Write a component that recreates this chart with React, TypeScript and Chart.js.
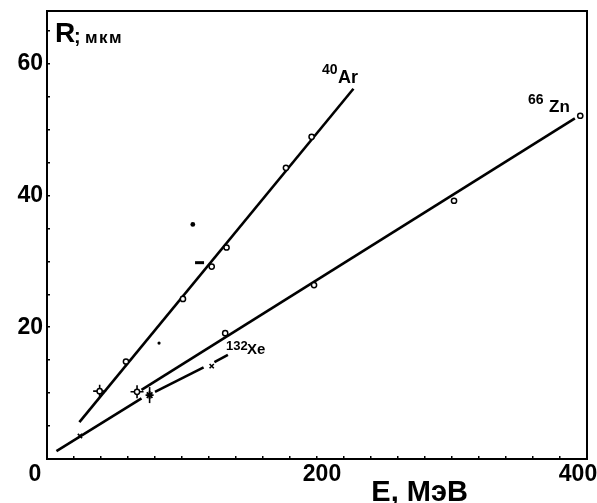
import React, { useEffect, useRef } from 'react';
import { Chart, registerables } from 'chart.js';

Chart.register(...registerables);

// ---- data (E in MeV, R in µm) ----
const AR_LINE_E = [24, 227];
const AR_LINE_R = [5.6, 56.2];
const ZN_LOW_E = [7, 70];
const ZN_LOW_R = [1.2, 9.2];
const ZN_LINE_E = [70, 391];
const ZN_LINE_R = [10.5, 51.7];
const XE_SEG1_E = [80, 116];
const XE_SEG1_R = [10.2, 13.9];
const XE_SEG2_E = [124, 134];
const XE_SEG2_R = [14.7, 15.8];

const AR_PTS_E = [39, 58.5, 100.7, 122, 133, 177, 196];
const AR_PTS_R = [10.3, 14.8, 24.3, 29.2, 32.1, 44.2, 48.9];
const ZN_PTS_E = [66.7, 132, 197.8, 301.5, 395];
const ZN_PTS_R = [10.2, 19.1, 26.4, 39.2, 52.1];
const CROSS_E = [39, 66.7];
const CROSS_R = [10.3, 10.2];
const XE_X_E = [24.4, 122];
const XE_X_R = [3.5, 14.1];
const XE_STAR_E = [76];
const XE_STAR_R = [9.7];
const DASH_E = [113];
const DASH_R = [29.8];
const STRAY_E = [108, 83];
const STRAY_R = [35.6, 17.6];

const X_MIN = 0;
const X_MAX = 400;
const X_STEP = 20;
const X_LABELS = [0, 200, 400];
const Y_MIN = 0;
const Y_MAX = 68;
const Y_STEP = 5;
const Y_LABELS = [20, 40, 60];

const pts = (xs: number[], ys: number[]) => xs.map((x, i) => ({ x, y: ys[i] }));

const FONT = '"Liberation Sans", Arial, sans-serif';

const textPlugin = {
  id: 'texts',
  afterDraw(chart: any) {
    const { ctx, chartArea: a, scales } = chart;
    const x = scales.x;
    const y = scales.y;
    ctx.save();
    ctx.strokeStyle = '#000';
    ctx.lineWidth = 2;
    ctx.beginPath();
    ctx.moveTo(a.left - 1, a.top);
    ctx.lineTo(a.right, a.top);
    ctx.lineTo(a.right, a.bottom + 1);
    ctx.stroke();

    ctx.fillStyle = '#000';
    ctx.textBaseline = 'alphabetic';
    // x tick labels
    ctx.font = `bold 23px ${FONT}`;
    ctx.textAlign = 'center';
    const xOff: Record<number, number> = { 0: -12, 200: 5, 400: -9 };
    X_LABELS.forEach((v) => {
      ctx.fillText(String(v), x.getPixelForValue(v) + (xOff[v] || 0), a.bottom + 22);
    });
    // axis titles
    ctx.font = `bold 29px ${FONT}`;
    ctx.fillText('E, МэВ', x.getPixelForValue(276), a.bottom + 42);
    ctx.textAlign = 'left';
    ctx.font = `bold 28px ${FONT}`;
    ctx.fillText('R', a.left + 8, a.top + 31);
    ctx.font = `bold 20px ${FONT}`;
    ctx.fillText(';', a.left + 27, a.top + 32);
    ctx.font = `bold 17px ${FONT}`;
    (ctx as any).letterSpacing = '1.5px';
    ctx.fillText('мкм', a.left + 38, a.top + 32);
    (ctx as any).letterSpacing = '0px';

    // curve labels (anchored in data coordinates)
    const at = (t: string, e: number, r: number, f: string) => {
      ctx.font = f;
      ctx.fillText(t, x.getPixelForValue(e), y.getPixelForValue(r));
    };
    at('40', 203.7, 58.5, `bold 14px ${FONT}`);
    at('Ar', 215.6, 57.0, `bold 18px ${FONT}`);
    at('66', 356.3, 53.9, `bold 14px ${FONT}`);
    at('Zn', 371.9, 52.6, `bold 17px ${FONT}`);
    at('132', 132.6, 16.6, `bold 13px ${FONT}`);
    at('Xe', 148.1, 16.0, `bold 15px ${FONT}`);
    ctx.restore();
  },
};

export default function App() {
  const ref = useRef<HTMLCanvasElement | null>(null);

  useEffect(() => {
    if (!ref.current) return;
    const lineDs = (xs: number[], ys: number[]) => ({
      data: pts(xs, ys),
      showLine: true,
      borderColor: '#000',
      borderWidth: 2.6,
      pointRadius: 0,
      order: 10,
    });
    const chart = new Chart(ref.current, {
      type: 'scatter',
      data: {
        datasets: [
          {
            data: pts(AR_PTS_E, AR_PTS_R),
            pointStyle: 'circle',
            pointRadius: 2.6,
            backgroundColor: '#fff',
            borderColor: '#000',
            borderWidth: 1.5,
            order: 1,
          },
          {
            data: pts(ZN_PTS_E, ZN_PTS_R),
            pointStyle: 'circle',
            pointRadius: 2.6,
            backgroundColor: '#fff',
            borderColor: '#000',
            borderWidth: 1.5,
            order: 1,
          },
          {
            data: pts(CROSS_E, CROSS_R),
            pointStyle: 'cross',
            pointRadius: 6.5,
            borderColor: '#000',
            borderWidth: 1.6,
            order: 2,
          },
          {
            data: pts(XE_X_E, XE_X_R),
            pointStyle: 'crossRot',
            pointRadius: 3,
            borderColor: '#000',
            borderWidth: 1.6,
            order: 1,
          },
          {
            data: pts(XE_STAR_E, XE_STAR_R),
            pointStyle: 'star',
            pointRadius: 4,
            borderColor: '#000',
            borderWidth: 1.8,
            order: 1,
          },
          {
            data: pts(XE_STAR_E, XE_STAR_R),
            pointStyle: 'line',
            pointRotation: 90,
            pointRadius: 8,
            borderColor: '#000',
            borderWidth: 1.6,
            order: 1,
          },
          {
            data: pts(DASH_E, DASH_R),
            pointStyle: 'line',
            pointRadius: 4.5,
            borderColor: '#000',
            borderWidth: 3,
            order: 1,
          },
          {
            data: pts(STRAY_E, STRAY_R),
            pointStyle: 'circle',
            pointRadius: [2.4, 1.6],
            backgroundColor: '#000',
            borderColor: '#000',
            borderWidth: 0,
            order: 1,
          },
          lineDs(AR_LINE_E, AR_LINE_R),
          lineDs(ZN_LOW_E, ZN_LOW_R),
          lineDs(ZN_LINE_E, ZN_LINE_R),
          lineDs(XE_SEG1_E, XE_SEG1_R),
          lineDs(XE_SEG2_E, XE_SEG2_R),
        ],
      },
      options: {
        animation: false,
        responsive: true,
        maintainAspectRatio: false,
        layout: { padding: { top: 11, right: 10, left: 0, bottom: 0 } },
        plugins: {
          legend: { display: false },
          tooltip: { enabled: false },
        },
        scales: {
          x: {
            type: 'linear',
            min: X_MIN,
            max: X_MAX,
            afterFit: (s: any) => {
              s.height = 44;
              s.paddingLeft = 0;
              s.paddingRight = 0;
            },
            ticks: { stepSize: X_STEP, includeBounds: false, display: false },
            grid: {
              drawOnChartArea: false,
              drawTicks: true,
              tickLength: -3,
              color: '#000',
              lineWidth: 1.5,
            },
            border: { display: true, color: '#000', width: 2 },
          },
          y: {
            type: 'linear',
            min: Y_MIN,
            max: Y_MAX,
            afterFit: (s: any) => {
              s.width = 47;
              s.paddingTop = 0;
              s.paddingBottom = 0;
            },
            ticks: {
              stepSize: Y_STEP,
              includeBounds: false,
              padding: 7,
              color: '#000',
              font: { family: FONT, size: 23, weight: 'bold' },
              callback: (v: any) => (Y_LABELS.includes(Number(v)) ? String(v) : ''),
            },
            grid: {
              drawOnChartArea: false,
              drawTicks: true,
              tickLength: -3,
              color: '#000',
              lineWidth: 1.5,
            },
            border: { display: true, color: '#000', width: 2 },
          },
        },
      },
      plugins: [textPlugin],
    } as any);
    return () => chart.destroy();
  }, []);

  return (
    <div
      style={{
        position: 'fixed',
        left: 0,
        top: 0,
        width: 597,
        height: 503,
        background: '#fff',
      }}
    >
      <canvas ref={ref} />
    </div>
  );
}
